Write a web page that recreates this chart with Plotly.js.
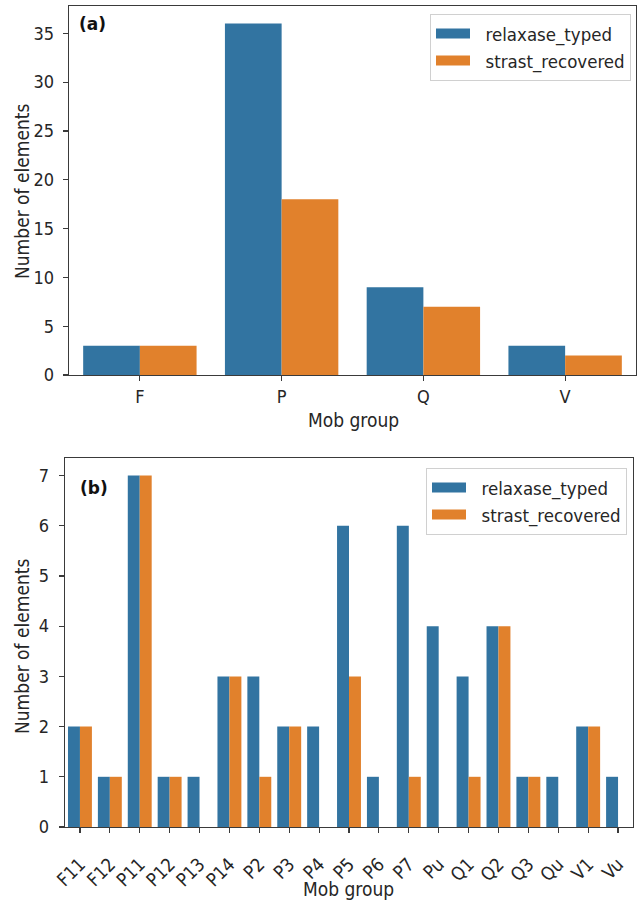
<!DOCTYPE html>
<html>
<head>
<meta charset="utf-8">
<script src="https://cdn.plot.ly/plotly-3.0.1.min.js"></script>
<style>html,body{margin:0;padding:0;background:#fff;}#chart{width:637px;height:903px;}</style>
</head>
<body>
<div id="chart"></div>
<script>
// Panel (a): Mob groups
const groupsA = ['F', 'P', 'Q', 'V'];
const relaxaseA = [3, 36, 9, 3];
const strastA = [3, 18, 7, 2];

// Panel (b): Mob subgroups
const groupsB = ['F11','F12','P11','P12','P13','P14','P2','P3','P4','P5','P6','P7','Pu','Q1','Q2','Q3','Qu','V1','Vu'];
const relaxaseB = [2, 1, 7, 1, 1, 3, 3, 2, 2, 6, 1, 6, 4, 3, 4, 1, 1, 2, 1];
const strastB =   [2, 1, 7, 1, 0, 3, 1, 2, 0, 3, 0, 1, 0, 1, 4, 1, 0, 2, 0];

const seriesNames = ['relaxase_typed', 'strast_recovered'];
const colors = ['#3274a1', '#e1812c'];

const FONT = 'DejaVu Sans Condensed, DejaVu Sans, sans-serif';
const TXT = '#262626';
const W = 637, H = 903;
const px = v => v / W;
const py = v => 1 - v / H;
const GAP = '\u00a0\u00a0';

function bar(x, y, i, xa, ya) {
  return {type:'bar', x:x, y:y, name:seriesNames[i], showlegend:false,
          marker:{color:colors[i], line:{width:0}}, xaxis:xa, yaxis:ya};
}
// legend-only entries: thick line keys look like matplotlib patch handles
function key(i, xa, ya, lg) {
  return {type:'scatter', mode:'lines', x:[null], y:[null], name:GAP + seriesNames[i],
          line:{color:colors[i], width:12}, xaxis:xa, yaxis:ya, legend:lg, hoverinfo:'skip'};
}

const traces = [
  bar(groupsA, relaxaseA, 0, 'x', 'y'),
  bar(groupsA, strastA, 1, 'x', 'y'),
  bar(groupsB, relaxaseB, 0, 'x2', 'y2'),
  bar(groupsB, strastB, 1, 'x2', 'y2'),
  key(0, 'x', 'y', 'legend'), key(1, 'x', 'y', 'legend'),
  key(0, 'x2', 'y2', 'legend2'), key(1, 'x2', 'y2', 'legend2')
];

const axisCommon = {
  showline:true, mirror:true, linecolor:'#3a3a3a', linewidth:1.3,
  ticks:'outside', ticklen:5, tickwidth:1.2, tickcolor:'#3a3a3a',
  showgrid:false, zeroline:false, automargin:false,
  tickfont:{family:FONT, size:18, color:TXT}
};

const legendCommon = {
  bgcolor:'rgba(255,255,255,0.8)', bordercolor:'#d0d0d0', borderwidth:1,
  font:{family:FONT, size:18.5, color:TXT},
  xanchor:'right', yanchor:'top', tracegroupgap:2, itemwidth:34
};

const layout = {
  width: W, height: H,
  margin:{l:0, r:0, t:0, b:0},
  paper_bgcolor:'#fff', plot_bgcolor:'#fff',
  barmode:'group', bargap:0.2, bargroupgap:0,
  font:{family:FONT, color:TXT},
  xaxis: Object.assign({}, axisCommon, {
    domain:[px(69), px(636)], anchor:'y',
    range:[-0.5, 3.5], type:'category', ticklabelstandoff:0
  }),
  yaxis: Object.assign({}, axisCommon, {
    domain:[py(375), py(6)], anchor:'x',
    range:[0, 37.8], tickvals:[0,5,10,15,20,25,30,35], ticklabelstandoff:5
  }),
  xaxis2: Object.assign({}, axisCommon, {
    domain:[px(65), px(633)], anchor:'y2',
    range:[-0.5, 18.5], type:'category', tickangle:-45, ticklabelstandoff:13,
    tickfont:{family:FONT, size:18.5, color:TXT}
  }),
  yaxis2: Object.assign({}, axisCommon, {
    domain:[py(827), py(458)], anchor:'x2',
    range:[0, 7.35], tickvals:[0,1,2,3,4,5,6,7], ticklabelstandoff:6,
    tickfont:{family:FONT, size:18, color:TXT}
  }),
  legend: Object.assign({}, legendCommon, {x: px(631), y: py(14)}),
  legend2: Object.assign({}, legendCommon, {x: px(627), y: py(468)}),
  annotations:[
    {xref:'paper', yref:'paper', x:px(77), y:py(12), xanchor:'left', yanchor:'top', showarrow:false,
     text:'<b>(a)</b>', font:{family:'DejaVu Sans, sans-serif', size:17, color:'#111'}},
    {xref:'paper', yref:'paper', x:px(78), y:py(476), xanchor:'left', yanchor:'top', showarrow:false,
     text:'<b>(b)</b>', font:{family:'DejaVu Sans, sans-serif', size:17, color:'#111'}},
    // axis titles
    {xref:'paper', yref:'paper', x:px(353), y:py(420), xanchor:'center', yanchor:'middle', showarrow:false,
     text:'Mob group', font:{family:FONT, size:19, color:TXT}},
    {xref:'paper', yref:'paper', x:px(348), y:py(889), xanchor:'center', yanchor:'middle', showarrow:false,
     text:'Mob group', font:{family:FONT, size:19, color:TXT}},
    {xref:'paper', yref:'paper', x:px(22), y:py(192), xanchor:'center', yanchor:'middle', showarrow:false, textangle:-90,
     text:'Number of elements', font:{family:FONT, size:19, color:TXT}},
    {xref:'paper', yref:'paper', x:px(22), y:py(647), xanchor:'center', yanchor:'middle', showarrow:false, textangle:-90,
     text:'Number of elements', font:{family:FONT, size:19, color:TXT}}
  ],
  showlegend:true
};

Plotly.newPlot('chart', traces, layout, {staticPlot:true, displayModeBar:false});
</script>
</body>
</html>
